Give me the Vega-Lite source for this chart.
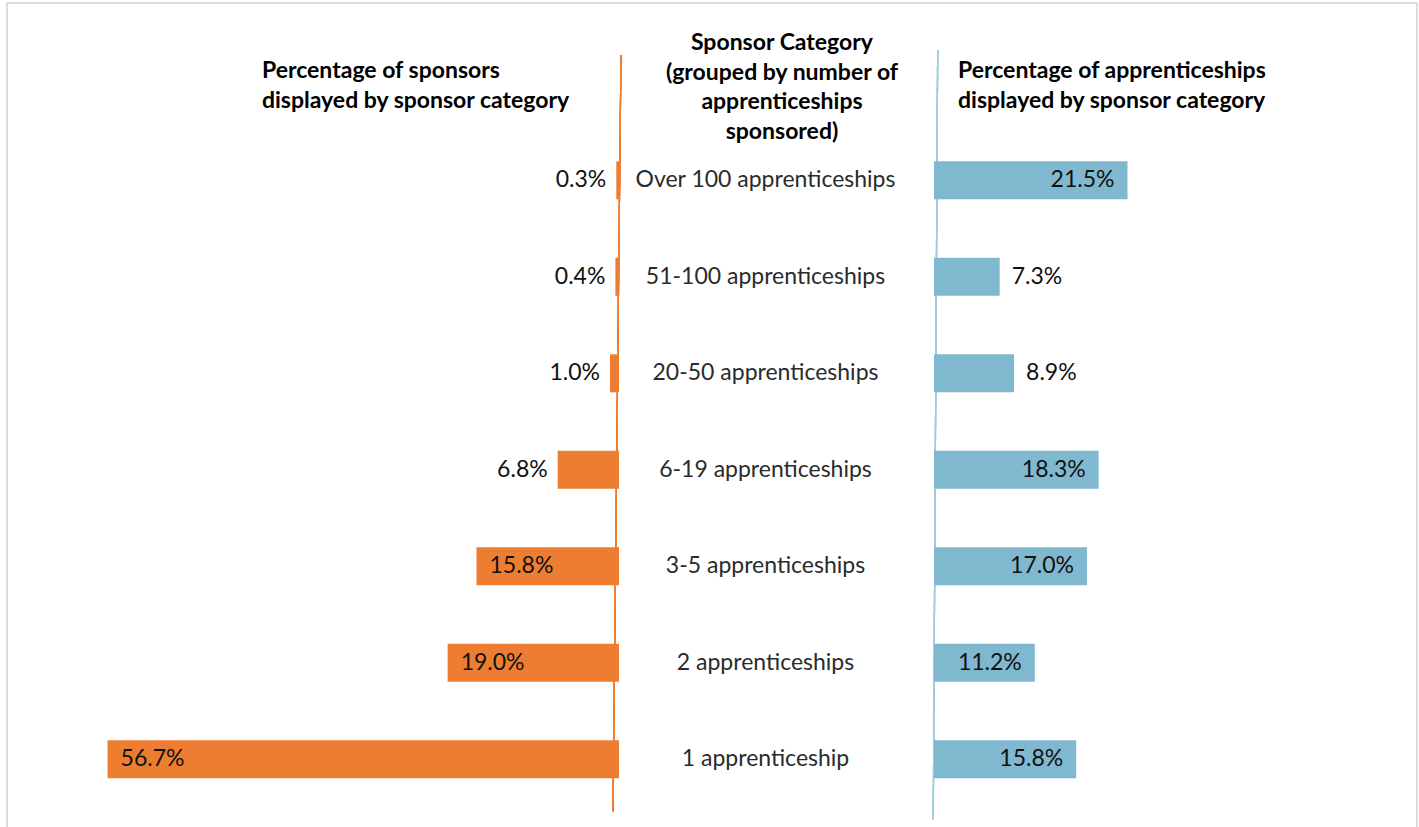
{
  "$schema": "https://vega.github.io/schema/vega-lite/v6.json",
  "width": 1419,
  "height": 827,
  "autosize": {"type": "fit", "contains": "padding"},
  "padding": {"left": 7, "top": 3, "right": 2, "bottom": -2},
  "background": "white",
  "config": {"view": {"stroke": "#D0D0D0", "strokeWidth": 1.5}, "font": "Lato"},
  "data": {
    "values": [
      {"order": 1, "category": "Over 100 apprenticeships", "sponsors": 0.003, "apprenticeships": 0.215},
      {"order": 2, "category": "51-100 apprenticeships", "sponsors": 0.004, "apprenticeships": 0.073},
      {"order": 3, "category": "20-50 apprenticeships", "sponsors": 0.010, "apprenticeships": 0.089},
      {"order": 4, "category": "6-19 apprenticeships", "sponsors": 0.068, "apprenticeships": 0.183},
      {"order": 5, "category": "3-5 apprenticeships", "sponsors": 0.158, "apprenticeships": 0.170},
      {"order": 6, "category": "2 apprenticeships", "sponsors": 0.190, "apprenticeships": 0.112},
      {"order": 7, "category": "1 apprenticeship", "sponsors": 0.567, "apprenticeships": 0.158}
    ]
  },
  "resolve": {"scale": {"x": "independent"}},
  "layer": [
    {
      "encoding": {
        "y": {"field": "order", "type": "quantitative", "axis": null,
              "scale": {"domain": [-0.786, 7.671], "reverse": true, "nice": false, "zero": false}}
      },
      "layer": [
        {
          "mark": {"type": "rule", "color": "#ED7D31", "strokeWidth": 1.2},
          "encoding": {
            "x": {"datum": -0.0022, "type": "quantitative", "axis": null,
                  "scale": {"domain": [-0.8847, 0.6785], "reverse": true, "nice": false, "zero": false}},
            "x2": {"datum": 0.0067},
            "y": {"datum": -0.2977, "type": "quantitative"},
            "y2": {"datum": 7.54}
          }
        },
        {
          "mark": {"type": "bar", "orient": "horizontal", "size": 38, "color": "#ED7D31"},
          "encoding": {
            "x": {"field": "sponsors", "type": "quantitative", "axis": null,
                  "scale": {"domain": [-0.8847, 0.6785], "reverse": true, "nice": false, "zero": false}},
            "x2": {"datum": 0}
          }
        },
        {
          "transform": [{"filter": "datum.sponsors >= 0.1"}],
          "mark": {"type": "text", "align": "left", "baseline": "middle", "dx": 13, "fontSize": 23, "color": "#111111"},
          "encoding": {
            "x": {"field": "sponsors", "type": "quantitative", "axis": null,
                  "scale": {"domain": [-0.8847, 0.6785], "reverse": true, "nice": false, "zero": false}},
            "text": {"field": "sponsors", "type": "quantitative", "format": ".1%"}
          }
        },
        {
          "transform": [{"filter": "datum.sponsors < 0.1"}],
          "mark": {"type": "text", "align": "right", "baseline": "middle", "dx": -10, "fontSize": 23, "color": "#111111"},
          "encoding": {
            "x": {"field": "sponsors", "type": "quantitative", "axis": null,
                  "scale": {"domain": [-0.8847, 0.6785], "reverse": true, "nice": false, "zero": false}},
            "text": {"field": "sponsors", "type": "quantitative", "format": ".1%"}
          }
        }
      ]
    },
    {
      "encoding": {
        "y": {"field": "order", "type": "quantitative", "axis": null,
              "scale": {"domain": [-0.786, 7.671], "reverse": true, "nice": false, "zero": false}}
      },
      "layer": [
        {
          "mark": {"type": "rule", "color": "#9CCCDE", "strokeWidth": 1.2},
          "encoding": {
            "x": {"datum": 0.0041, "type": "quantitative", "axis": null,
                  "scale": {"domain": [-1.03, 0.5367], "nice": false, "zero": false}},
            "x2": {"datum": -0.0008},
            "y": {"datum": -0.3496, "type": "quantitative"},
            "y2": {"datum": 7.623}
          }
        },
        {
          "mark": {"type": "bar", "orient": "horizontal", "size": 38, "color": "#7FB8CF"},
          "encoding": {
            "x": {"field": "apprenticeships", "type": "quantitative", "axis": null,
                  "scale": {"domain": [-1.03, 0.5367], "nice": false, "zero": false}},
            "x2": {"datum": 0}
          }
        },
        {
          "transform": [{"filter": "datum.apprenticeships >= 0.1"}],
          "mark": {"type": "text", "align": "right", "baseline": "middle", "dx": -13, "fontSize": 23, "color": "#111111"},
          "encoding": {
            "x": {"field": "apprenticeships", "type": "quantitative", "axis": null,
                  "scale": {"domain": [-1.03, 0.5367], "nice": false, "zero": false}},
            "text": {"field": "apprenticeships", "type": "quantitative", "format": ".1%"}
          }
        },
        {
          "transform": [{"filter": "datum.apprenticeships < 0.1"}],
          "mark": {"type": "text", "align": "left", "baseline": "middle", "dx": 12, "fontSize": 23, "color": "#111111"},
          "encoding": {
            "x": {"field": "apprenticeships", "type": "quantitative", "axis": null,
                  "scale": {"domain": [-1.03, 0.5367], "nice": false, "zero": false}},
            "text": {"field": "apprenticeships", "type": "quantitative", "format": ".1%"}
          }
        },
        {
          "mark": {"type": "text", "align": "center", "baseline": "middle", "fontSize": 23, "color": "#2b2b2b"},
          "encoding": {
            "x": {"datum": -0.1872, "type": "quantitative", "axis": null,
                  "scale": {"domain": [-1.03, 0.5367], "nice": false, "zero": false}},
            "text": {"field": "category", "type": "nominal"}
          }
        },
        {
          "transform": [{"filter": "datum.order == 1"}],
          "mark": {"type": "text", "align": "center", "baseline": "middle", "fontSize": 23, "fontWeight": "bold", "color": "#000000", "lineHeight": 29.5},
          "encoding": {
            "x": {"datum": -0.1689, "type": "quantitative", "axis": null,
                  "scale": {"domain": [-1.03, 0.5367], "nice": false, "zero": false}},
            "y": {"datum": -0.422, "type": "quantitative"},
            "text": {"value": ["Sponsor Category", "(grouped by number of", "apprenticeships", "sponsored)"]}
          }
        },
        {
          "transform": [{"filter": "datum.order == 1"}],
          "mark": {"type": "text", "align": "left", "baseline": "middle", "fontSize": 23, "fontWeight": "bold", "color": "#000000", "lineHeight": 29.5},
          "encoding": {
            "x": {"datum": -0.7467, "type": "quantitative", "axis": null,
                  "scale": {"domain": [-1.03, 0.5367], "nice": false, "zero": false}},
            "y": {"datum": -0.1316, "type": "quantitative"},
            "text": {"value": ["Percentage of sponsors", "displayed by sponsor category"]}
          }
        },
        {
          "transform": [{"filter": "datum.order == 1"}],
          "mark": {"type": "text", "align": "left", "baseline": "middle", "fontSize": 23, "fontWeight": "bold", "color": "#000000", "lineHeight": 29.5},
          "encoding": {
            "x": {"datum": 0.0267, "type": "quantitative", "axis": null,
                  "scale": {"domain": [-1.03, 0.5367], "nice": false, "zero": false}},
            "y": {"datum": -0.1316, "type": "quantitative"},
            "text": {"value": ["Percentage of apprenticeships", "displayed by sponsor category"]}
          }
        }
      ]
    }
  ]
}
